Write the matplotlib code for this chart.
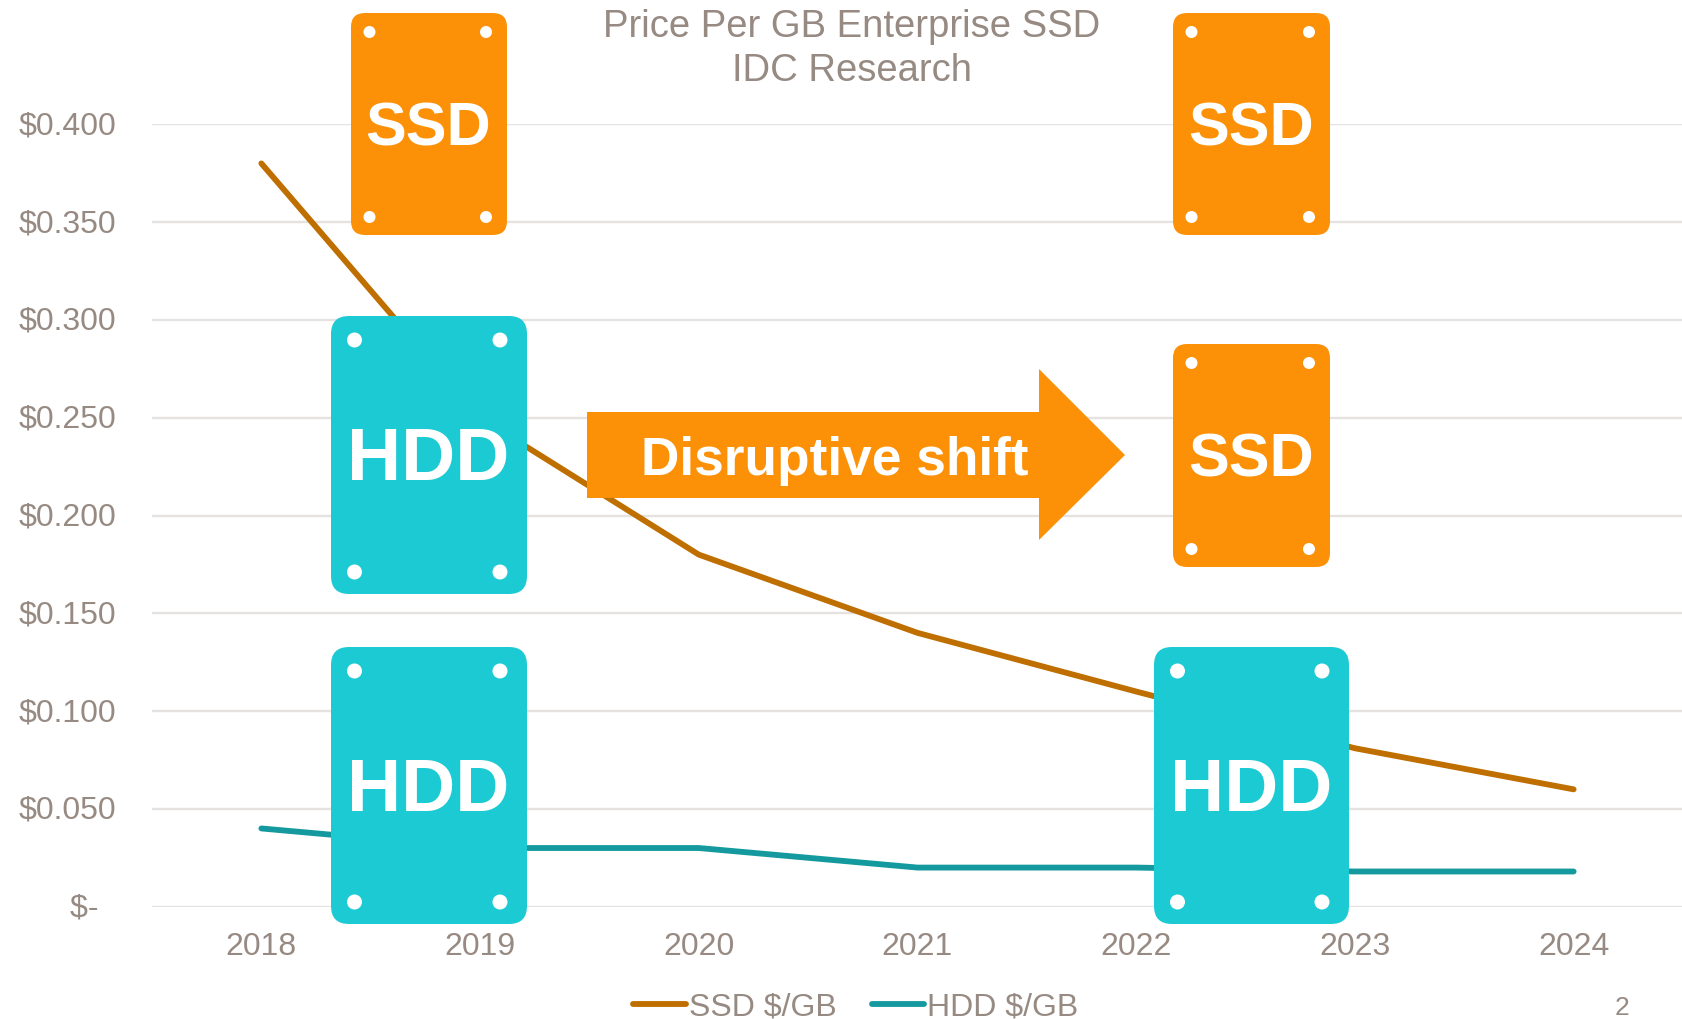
import matplotlib
matplotlib.use("Agg")
import matplotlib.pyplot as plt
from matplotlib.patches import FancyBboxPatch, Circle, Polygon
from matplotlib.transforms import Affine2D

W, H = 1683, 1019
years = [2018, 2019, 2020, 2021, 2022, 2023, 2024]
ssd_price = [0.38, 0.25, 0.18, 0.14, 0.11, 0.081, 0.06]
hdd_price = [0.04, 0.03, 0.03, 0.02, 0.02, 0.018, 0.018]
y_ticks = [0, 0.05, 0.10, 0.15, 0.20, 0.25, 0.30, 0.35, 0.40]
y_labels = ["$-  ", "$0.050", "$0.100", "$0.150", "$0.200", "$0.250", "$0.300", "$0.350", "$0.400"]
title_lines = ["Price Per GB Enterprise SSD", "IDC Research"]

TEXT = "#968A82"
GRID = "#E5E2E0"
SSD_LINE = "#BF6E00"
HDD_LINE = "#149A9E"
ORANGE = "#FC9006"
CYAN = "#1CCAD4"

plt.rcParams["font.family"] = ["Liberation Sans", "DejaVu Sans"]
fig = plt.figure(figsize=(W / 100, H / 100), dpi=100)
fig.patch.set_facecolor("white")

ax_l, ax_r, ax_t, ax_b = 152, 1683, 124.3, 906.7
ax = fig.add_axes([ax_l / W, 1 - ax_b / H, (ax_r - ax_l) / W, (ax_b - ax_t) / H])
ax.set_xlim(2017.5, 2024.5)
ax.set_ylim(0, 0.4)
l1, = ax.plot(years, ssd_price, color=SSD_LINE, lw=4.2, solid_capstyle="round",
              solid_joinstyle="round", clip_on=False, zorder=3, label="SSD $/GB")
l2, = ax.plot(years, hdd_price, color=HDD_LINE, lw=4.2, solid_capstyle="round",
              solid_joinstyle="round", clip_on=False, zorder=3, label="HDD $/GB")
ax.set_yticks(y_ticks)
ax.set_yticklabels(y_labels)
ax.set_xticks(years)
ax.grid(axis="y", color=GRID, lw=1.7, zorder=0)
ax.grid(axis="x", visible=False)
ax.set_axisbelow(True)
for s in ax.spines.values():
    s.set_visible(False)
ax.tick_params(axis="y", length=0, pad=26, labelsize=23, labelcolor=TEXT)
ax.tick_params(axis="x", length=0, pad=18.5, labelsize=23, labelcolor=TEXT)
for t in ax.get_yticklabels():
    t.set_verticalalignment("center")
    t.set_transform(t.get_transform() + Affine2D().translate(0, -2))

fig.legend(handles=[l1, l2], loc="center", bbox_to_anchor=(856 / W, 1 - 1007 / H), ncols=2,
           frameon=False, fontsize=23, labelcolor=TEXT, handlelength=1.65,
           handletextpad=0.1, columnspacing=1.08, borderpad=0, borderaxespad=0)

# Overlay in pixel coordinates for the illustration shapes
ov = fig.add_axes([0, 0, 1, 1], facecolor="none", zorder=5)
ov.set_xlim(0, W)
ov.set_ylim(H, 0)
ov.axis("off")


def drive(x0, x1, y0, y1, color, label, fs, radius, ins_l, ins_r, ins_t, ins_b, r, dy):
    ov.add_patch(FancyBboxPatch((x0 + radius, y0 + radius), x1 - x0 - 2 * radius, y1 - y0 - 2 * radius,
                                boxstyle=f"round,pad={radius},rounding_size={radius}",
                                fc=color, ec="none"))
    for cx in (x0 + ins_l, x1 - ins_r):
        for cy in (y0 + ins_t, y1 - ins_b):
            ov.add_patch(Circle((cx, cy), r, fc="white", ec="none"))
    ov.text((x0 + x1) / 2 - 0.5, (y0 + y1) / 2 + dy, label, color="white", fontsize=fs, fontweight="bold",
            ha="center", va="center_baseline")


ssd_boxes = [(351, 507, 13, 235), (1173, 1330, 13, 235), (1173, 1330, 344, 567)]
hdd_boxes = [(331, 527, 316, 594), (331, 527, 647, 924), (1154, 1349, 647, 924)]
for b in ssd_boxes:
    drive(*b, ORANGE, "SSD", 44, 14, 18.5, 21, 19, 18, 6, -1)
for b in hdd_boxes:
    drive(*b, CYAN, "HDD", 54, 18, 23.5, 27, 24, 22, 7.5, -1.5)

ov.add_patch(Polygon([(587, 412), (1039, 412), (1039, 369), (1125, 455), (1039, 540), (1039, 498), (587, 498)],
                     closed=True, fc=ORANGE, ec="none"))
ov.text(835, 456, "Disruptive shift", color="white", fontsize=38.3, fontweight="bold",
        ha="center", va="center_baseline")

ov.text(852, 27, title_lines[0], color=TEXT, fontsize=27.5, ha="center", va="center")
ov.text(852, 71, title_lines[1], color=TEXT, fontsize=27.5, ha="center", va="center")
ov.text(1622, 1008, "2", color=TEXT, fontsize=19, ha="center", va="center")

fig.savefig("out.png", dpi=100)
